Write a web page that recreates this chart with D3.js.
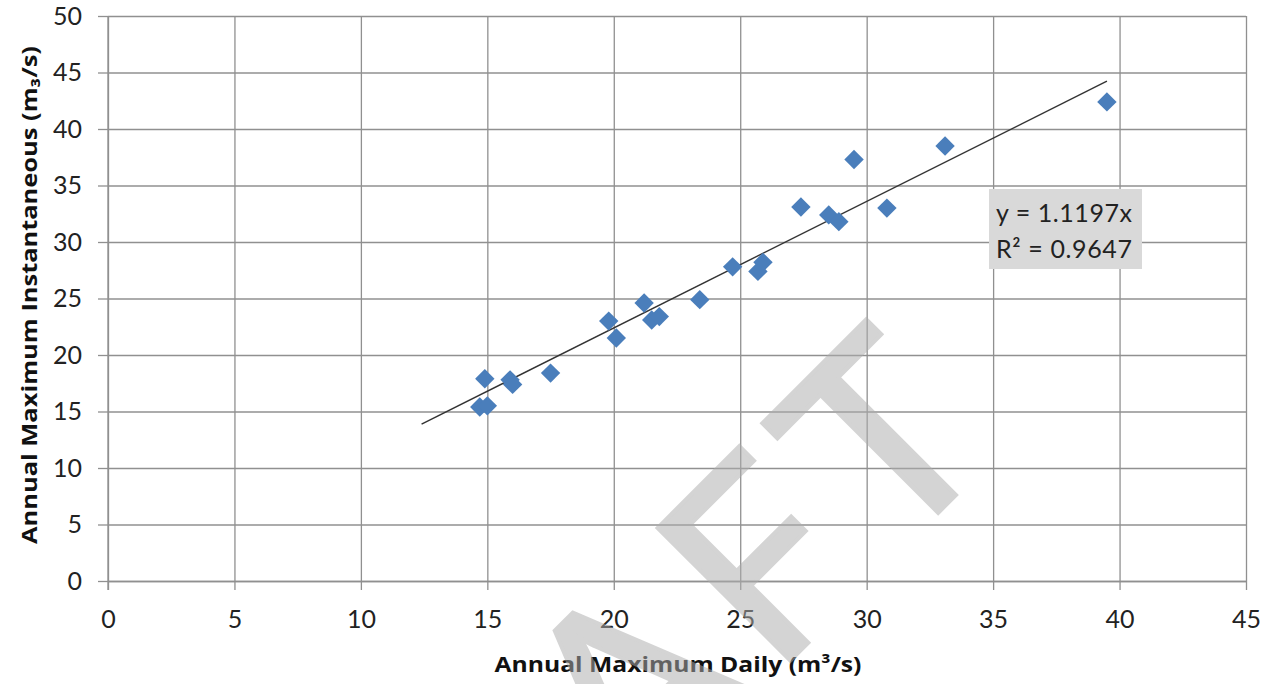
<!DOCTYPE html>
<html>
<head>
<meta charset="utf-8">
<script src="https://cdn.jsdelivr.net/npm/d3@7"></script>
<style>
  html, body { margin: 0; padding: 0; background: #fff; }
  svg { display: block; }
</style>
</head>
<body>
<svg id="chart" width="1275" height="684"></svg>
<script>
// ---- data ----
const dailyMax = [14.7, 15.0, 14.9, 15.9, 16.0, 17.5, 19.8, 20.1, 21.2, 21.5, 21.8, 23.4, 24.7, 25.7, 25.9, 27.4, 28.5, 28.9, 29.5, 30.8, 33.1, 39.5];
const instMax  = [15.4, 15.5, 17.9, 17.8, 17.4, 18.4, 23.0, 21.5, 24.6, 23.1, 23.4, 24.9, 27.8, 27.4, 28.2, 33.1, 32.4, 31.8, 37.3, 33.0, 38.5, 42.4];
const xTicks = [0, 5, 10, 15, 20, 25, 30, 35, 40, 45];
const yTicks = [0, 5, 10, 15, 20, 25, 30, 35, 40, 45, 50];
const trendSlope = 1.1197;
const trendRange = [12.4, 39.5];
const eqLines = ["y = 1.1197x", "R² = 0.9647"];
const xTitle = "Annual Maximum Daily (m³/s)";
const yTitle = "Annual Maximum Instantaneous (m₃/s)";
const watermark = "DRAFT";

// ---- layout ----
const svg = d3.select("#chart");
const x = d3.scaleLinear().domain([0, 45]).range([108, 1246]);
const y = d3.scaleLinear().domain([0, 50]).range([581, 16]);
const gridColor = "#909090";
const font = "Lato, 'Open Sans', sans-serif";
const titleFont = "'Open Sans', Lato, sans-serif";

svg.append("rect").attr("width", 1275).attr("height", 684).attr("fill", "#fff");

// gridlines via axes
const gx = svg.append("g").attr("transform", `translate(0,${y(0)})`)
  .call(d3.axisBottom(x).tickValues(xTicks).tickSize(-(y(0) - y(50))).tickSizeOuter(0).tickFormat(""));
gx.select(".domain").remove();
gx.selectAll("line").attr("stroke", gridColor).attr("stroke-width", 1.3);

const gy = svg.append("g").attr("transform", `translate(${x(0)},0)`)
  .call(d3.axisLeft(y).tickValues(yTicks).tickSize(-(x(45) - x(0))).tickSizeOuter(0).tickFormat(""));
gy.select(".domain").remove();
gy.selectAll("line").attr("stroke", gridColor).attr("stroke-width", 1.3);

// outward tick marks + labels
const xa = svg.append("g").attr("transform", `translate(0,${y(0)})`)
  .call(d3.axisBottom(x).tickValues(xTicks).tickSize(9).tickSizeOuter(0).tickPadding(20));
xa.select(".domain").attr("stroke", gridColor).attr("stroke-width", 1.3);
xa.selectAll("line").attr("stroke", gridColor).attr("stroke-width", 1.3);
xa.selectAll("text").attr("font-family", font).attr("font-size", 25).attr("fill", "#222");

const ya = svg.append("g").attr("transform", `translate(${x(0)},0)`)
  .call(d3.axisLeft(y).tickValues(yTicks).tickSize(10).tickSizeOuter(0).tickPadding(16));
ya.select(".domain").attr("stroke", gridColor).attr("stroke-width", 1.3)
  .attr("d", `M0,${y(50)}V${y(0) + 9}`);
ya.selectAll("line").attr("stroke", gridColor).attr("stroke-width", 1.3);
ya.selectAll("text").attr("font-family", font).attr("font-size", 25).attr("fill", "#222");

// trendline
svg.append("line")
  .attr("x1", x(trendRange[0])).attr("y1", y(trendSlope * trendRange[0]))
  .attr("x2", x(trendRange[1])).attr("y2", y(trendSlope * trendRange[1]))
  .attr("stroke", "#333").attr("stroke-width", 1.4);

// markers (diamonds)
const sym = d3.symbol().type(d3.symbolDiamond2).size(240);
svg.append("g").selectAll("path")
  .data(dailyMax.map((d, i) => [d, instMax[i]]))
  .join("path")
  .attr("d", sym)
  .attr("transform", d => `translate(${x(d[0])},${y(d[1])})`)
  .attr("fill", "#4a7ebb");

// equation box
const boxX = 989, boxY = 189;
svg.append("rect").attr("x", boxX).attr("y", boxY).attr("width", 153).attr("height", 80).attr("fill", "#d9d9d9");
svg.append("g").selectAll("text").data(eqLines).join("text")
  .attr("x", boxX + 7).attr("y", (d, i) => 222 + i * 36)
  .attr("font-family", font).attr("font-size", 25).attr("fill", "#222")
  .attr("textLength", 136).attr("lengthAdjust", "spacing")
  .text(d => d);

// axis titles
svg.append("text").attr("x", 678).attr("y", 672).attr("text-anchor", "middle")
  .attr("font-family", titleFont).attr("font-weight", "bold").attr("font-size", 21).attr("fill", "#111")
  .attr("textLength", 367).attr("lengthAdjust", "spacingAndGlyphs")
  .text(xTitle);
svg.append("text").attr("transform", "translate(37,295) rotate(-90)").attr("text-anchor", "middle")
  .attr("font-family", titleFont).attr("font-weight", "bold").attr("font-size", 21).attr("fill", "#111")
  .attr("textLength", 498).attr("lengthAdjust", "spacingAndGlyphs")
  .text(yTitle);

// watermark
const wg = svg.append("g").attr("opacity", 0.52);
const wm = wg.append("text").text(watermark)
  .attr("font-family", font).attr("font-size", 262).attr("letter-spacing", 20)
  .attr("fill", "#adadad").attr("stroke", "#adadad").attr("stroke-width", 4)
  .attr("stroke-linejoin", "miter");
const n = wm.node();
const s = n.getStartPositionOfChar(4), e = n.getEndPositionOfChar(4);
const cx = (s.x + e.x) / 2 - 10;
wm.attr("transform", `translate(947,504) rotate(-45) translate(${-cx},0)`);
</script>
</body>
</html>
